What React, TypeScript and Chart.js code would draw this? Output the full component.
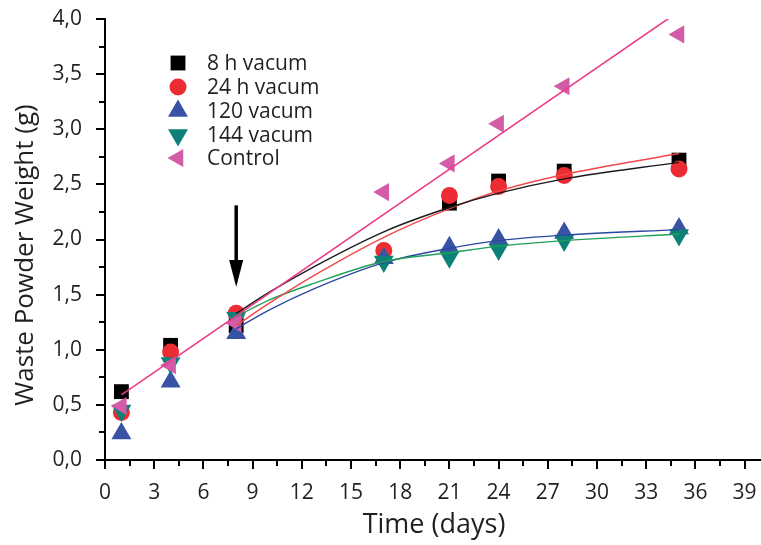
import React, { useEffect, useRef } from 'react';
import { Chart, registerables } from 'chart.js';

Chart.register(...registerables);

// ---- data ----
const days = [1, 4, 8, 17, 21, 24, 28, 35];
const vac8h = [0.62, 1.04, 1.22, null, 2.33, 2.53, 2.62, 2.72];
const vac24h = [0.43, 0.98, 1.33, 1.9, 2.4, 2.48, 2.58, 2.64];
const vac120 = [0.24, 0.71, 1.15, 1.83, 1.93, 2.0, 2.06, 2.1];
const vac144 = [0.45, 0.88, 1.29, 1.8, 1.84, 1.91, 1.99, 2.04];
const control = [0.49, 0.86, 1.24, 2.43, 2.69, 3.05, 3.39, 3.86];

const fitDays = [8, 10, 12.7, 17, 21, 24, 28, 35];
const fit8h = [1.33, 1.52, 1.75, 2.07, 2.29, 2.42, 2.55, 2.7];
const fit24h = [1.22, 1.42, 1.67, 2.02, 2.28, 2.44, 2.59, 2.78];
const fit120 = [1.19, 1.36, 1.55, 1.79, 1.92, 1.99, 2.04, 2.09];
const fit144 = [1.3, 1.45, 1.6, 1.8, 1.88, 1.94, 1.99, 2.05];
const controlFitDays = [1, 35];
const controlFit = [0.59, 4.07];

const arrowDay = 8;
const arrowFrom = 2.31;
const arrowTo = 1.57;

const seriesNames = ['8 h vacum', '24 h vacum', '120 vacum', '144 vacum', 'Control'];
const xTicks = [0, 3, 6, 9, 12, 15, 18, 21, 24, 27, 30, 33, 36, 39];
const yTicks = [0, 0.5, 1, 1.5, 2, 2.5, 3, 3.5, 4];
const yTickLabels = ['0,0', '0,5', '1,0', '1,5', '2,0', '2,5', '3,0', '3,5', '4,0'];
const xTitle = 'Time (days)';
const yTitle = 'Waste Powder Weight (g)';

// ---- styles ----
const FONT = '"Open Sans", "Noto Sans", sans-serif';
const TEXT = '#231f20';
const markerStyles = [
  { style: 'rect', rot: 0, r: 10.5, color: '#000000' },
  { style: 'circle', rot: 0, r: 8.5, color: '#ec2c33' },
  { style: 'triangle', rot: 0, r: 11.5, color: '#3953a4' },
  { style: 'triangle', rot: 180, r: 11.5, color: '#0d8178' },
  { style: 'triangle', rot: -90, r: 10.5, color: '#d35ba8' },
];
const lineColors = ['#1a1a1a', '#f0474a', '#2b47a0', '#22a05a', '#ec3a8a'];

const pts = (xs: number[], ys: (number | null)[]) =>
  xs.map((x, i) => ({ x, y: ys[i] as number })).filter((p) => p.y !== null);

function drawMarker(ctx: CanvasRenderingContext2D, m: any, x: number, y: number) {
  ctx.save();
  ctx.fillStyle = m.color;
  ctx.beginPath();
  if (m.style === 'rect') {
    const s = Math.SQRT1_2 * m.r;
    ctx.rect(x - s, y - s, 2 * s, 2 * s);
  } else if (m.style === 'circle') {
    ctx.arc(x, y, m.r, 0, Math.PI * 2);
  } else {
    let rad = (m.rot * Math.PI) / 180;
    ctx.moveTo(x + Math.sin(rad) * m.r, y - Math.cos(rad) * m.r);
    rad += (2 * Math.PI) / 3;
    ctx.lineTo(x + Math.sin(rad) * m.r, y - Math.cos(rad) * m.r);
    rad += (2 * Math.PI) / 3;
    ctx.lineTo(x + Math.sin(rad) * m.r, y - Math.cos(rad) * m.r);
    ctx.closePath();
  }
  ctx.fill();
  ctx.restore();
}

const decorPlugin = {
  id: 'decor',
  afterDraw(chart: any) {
    const { ctx, chartArea } = chart;
    const xs = chart.scales.x;
    const ys = chart.scales.y;
    ctx.save();
    // tick marks (major + minor)
    ctx.strokeStyle = '#000';
    ctx.lineWidth = 2;
    const bottom = chartArea.bottom;
    const left = chartArea.left;
    xTicks.forEach((v) => {
      const px = Math.round(xs.getPixelForValue(v));
      ctx.beginPath();
      ctx.moveTo(px, bottom);
      ctx.lineTo(px, bottom + 9);
      ctx.stroke();
      const mid = v + 1.5;
      if (mid <= xs.max) {
        const mx = Math.round(xs.getPixelForValue(mid));
        ctx.beginPath();
        ctx.moveTo(mx, bottom);
        ctx.lineTo(mx, bottom + 6);
        ctx.stroke();
      }
    });
    yTicks.forEach((v, i) => {
      const py = Math.round(ys.getPixelForValue(v));
      ctx.beginPath();
      ctx.moveTo(left, py);
      ctx.lineTo(left - 9, py);
      ctx.stroke();
      if (i < yTicks.length - 1) {
        const my = Math.round(ys.getPixelForValue(v + 0.25));
        ctx.beginPath();
        ctx.moveTo(left, my);
        ctx.lineTo(left - 6, my);
        ctx.stroke();
      }
    });

    // arrow
    const ax = xs.getPixelForValue(arrowDay);
    const aTop = ys.getPixelForValue(arrowFrom);
    const aTip = ys.getPixelForValue(arrowTo);
    const headLen = 27;
    ctx.fillStyle = '#000';
    ctx.lineWidth = 3.5;
    ctx.beginPath();
    ctx.moveTo(ax, aTop);
    ctx.lineTo(ax, aTip - headLen + 2);
    ctx.stroke();
    ctx.beginPath();
    ctx.moveTo(ax - 7, aTip - headLen);
    ctx.lineTo(ax + 7, aTip - headLen);
    ctx.lineTo(ax, aTip);
    ctx.closePath();
    ctx.fill();

    // legend
    const rows = [63, 87, 111, 135, 158];
    ctx.font = `21px ${FONT}`;
    ctx.textBaseline = 'middle';
    ctx.textAlign = 'left';
    seriesNames.forEach((name, i) => {
      drawMarker(ctx, markerStyles[i], 178, rows[i]);
      ctx.fillStyle = TEXT;
      ctx.fillText(name, 207, rows[i] + 1);
    });

    // axis titles
    ctx.fillStyle = TEXT;
    ctx.font = `27px ${FONT}`;
    ctx.textAlign = 'center';
    ctx.textBaseline = 'middle';
    ctx.fillText(xTitle, 434, 525);
    ctx.font = `26px ${FONT}`;
    ctx.translate(26, 255);
    ctx.rotate(-Math.PI / 2);
    ctx.fillText(yTitle, 0, 0);
    ctx.restore();
  },
};

export default function App() {
  const ref = useRef<HTMLCanvasElement | null>(null);

  useEffect(() => {
    document.body.style.margin = '0';
    const canvas = ref.current;
    if (!canvas) return;

    const markerSets = [vac8h, vac24h, vac120, vac144, control];
    const markerOrder = [9, 8, 7, 6, 5];
    const markerDatasets = markerSets.map((vals, i) => ({
      label: seriesNames[i],
      data: pts(days, vals),
      showLine: false,
      pointStyle: markerStyles[i].style,
      pointRotation: markerStyles[i].rot,
      pointRadius: markerStyles[i].r,
      pointHoverRadius: markerStyles[i].r,
      pointBackgroundColor: markerStyles[i].color,
      pointBorderColor: markerStyles[i].color,
      pointBorderWidth: 0,
      order: markerOrder[i],
    }));

    const fitSets = [fit8h, fit24h, fit120, fit144];
    const fitOrder = [1, 2, 4, 3];
    const fitDatasets = fitSets.map((vals, i) => ({
      label: seriesNames[i] + ' fit',
      data: pts(fitDays, vals),
      showLine: true,
      pointRadius: 0,
      borderColor: lineColors[i],
      borderWidth: 1.4,
      cubicInterpolationMode: 'monotone',
      order: fitOrder[i],
    }));

    const controlLine = {
      label: 'Control fit',
      data: pts(controlFitDays, controlFit),
      showLine: true,
      pointRadius: 0,
      borderColor: lineColors[4],
      borderWidth: 1.6,
      order: 0,
    };

    const chart = new Chart(canvas, {
      type: 'scatter',
      data: { datasets: [controlLine, ...fitDatasets, ...markerDatasets] as any },
      options: {
        responsive: false,
        animation: false,
        devicePixelRatio: 1,
        layout: { autoPadding: false, padding: { top: 19, right: 0, left: 0, bottom: 0 } },
        plugins: { legend: { display: false }, tooltip: { enabled: false } },
        scales: {
          x: {
            type: 'linear',
            min: 0,
            max: 40,
            afterBuildTicks: (s: any) => {
              s.ticks = xTicks.map((v) => ({ value: v }));
            },
            afterFit: (s: any) => {
              s.height = 85;
              s.paddingLeft = 0;
              s.paddingRight = 0;
            },
            ticks: {
              autoSkip: false,
              maxRotation: 0,
              padding: 12,
              color: TEXT,
              font: { family: FONT, size: 21 },
              callback: (v: any) => String(v),
            },
            grid: { display: false },
            border: { display: true, color: '#000', width: 2 },
          },
          y: {
            type: 'linear',
            min: 0,
            max: 4,
            afterBuildTicks: (s: any) => {
              s.ticks = yTicks.map((v) => ({ value: v }));
            },
            afterFit: (s: any) => {
              s.width = 105;
              s.paddingTop = 0;
              s.paddingBottom = 0;
            },
            ticks: {
              autoSkip: false,
              padding: 15,
              color: TEXT,
              font: { family: FONT, size: 21 },
              callback: (v: any) => yTickLabels[yTicks.indexOf(Number(v))] ?? '',
            },
            grid: { display: false },
            border: { display: true, color: '#000', width: 2 },
          },
        },
      } as any,
      plugins: [decorPlugin],
    });

    return () => chart.destroy();
  }, []);

  return (
    <div style={{ width: 761, height: 545, background: '#fff' }}>
      <canvas ref={ref} width={761} height={545} style={{ display: 'block' }} />
    </div>
  );
}
